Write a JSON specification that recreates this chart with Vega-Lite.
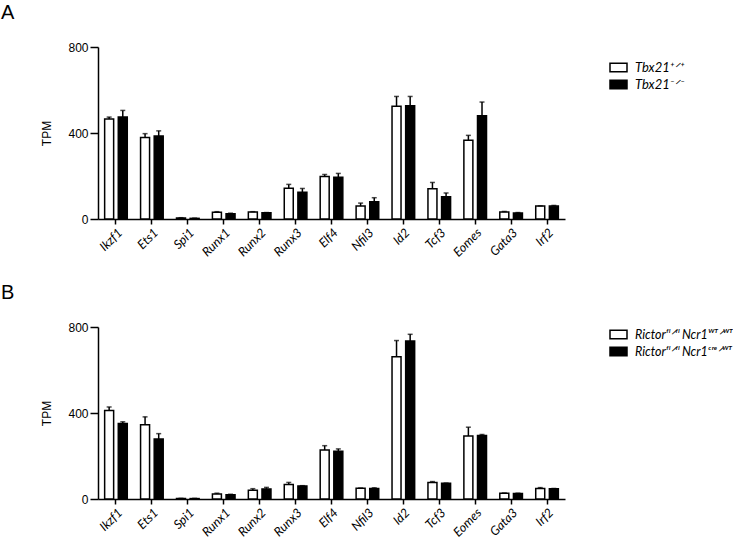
{
  "$schema": "https://vega.github.io/schema/vega-lite/v6.json",
  "padding": {"left": 1, "top": 3, "right": 0, "bottom": 5},
  "background": "white",
  "config": {
    "view": {"stroke": null},
    "font": "Liberation Sans",
    "axis": {"grid": false, "domainColor": "black", "tickColor": "black", "domainWidth": 1.5, "tickWidth": 1.5, "labelColor": "black", "titleColor": "black"}
  },
  "datasets": {
    "a": [
      {"gene": "Ikzf1", "genotype": "Tbx21+/+", "tpm": 465, "upper": 474},
      {"gene": "Ikzf1", "genotype": "Tbx21-/-", "tpm": 474, "upper": 505},
      {"gene": "Ets1", "genotype": "Tbx21+/+", "tpm": 379, "upper": 397},
      {"gene": "Ets1", "genotype": "Tbx21-/-", "tpm": 386, "upper": 410},
      {"gene": "Spi1", "genotype": "Tbx21+/+", "tpm": 5, "upper": 6},
      {"gene": "Spi1", "genotype": "Tbx21-/-", "tpm": 3, "upper": 4},
      {"gene": "Runx1", "genotype": "Tbx21+/+", "tpm": 31, "upper": 34},
      {"gene": "Runx1", "genotype": "Tbx21-/-", "tpm": 25, "upper": 27},
      {"gene": "Runx2", "genotype": "Tbx21+/+", "tpm": 33, "upper": 34},
      {"gene": "Runx2", "genotype": "Tbx21-/-", "tpm": 29, "upper": 30},
      {"gene": "Runx3", "genotype": "Tbx21+/+", "tpm": 143, "upper": 161},
      {"gene": "Runx3", "genotype": "Tbx21-/-", "tpm": 124, "upper": 142},
      {"gene": "Elf4", "genotype": "Tbx21+/+", "tpm": 198, "upper": 207},
      {"gene": "Elf4", "genotype": "Tbx21-/-", "tpm": 194, "upper": 212},
      {"gene": "Nfil3", "genotype": "Tbx21+/+", "tpm": 60, "upper": 74},
      {"gene": "Nfil3", "genotype": "Tbx21-/-", "tpm": 80, "upper": 99},
      {"gene": "Id2", "genotype": "Tbx21+/+", "tpm": 525, "upper": 570},
      {"gene": "Id2", "genotype": "Tbx21-/-", "tpm": 527, "upper": 570},
      {"gene": "Tcf3", "genotype": "Tbx21+/+", "tpm": 141, "upper": 170},
      {"gene": "Tcf3", "genotype": "Tbx21-/-", "tpm": 104, "upper": 121},
      {"gene": "Eomes", "genotype": "Tbx21+/+", "tpm": 366, "upper": 389},
      {"gene": "Eomes", "genotype": "Tbx21-/-", "tpm": 480, "upper": 544},
      {"gene": "Gata3", "genotype": "Tbx21+/+", "tpm": 33, "upper": 35},
      {"gene": "Gata3", "genotype": "Tbx21-/-", "tpm": 28, "upper": 30},
      {"gene": "Irf2", "genotype": "Tbx21+/+", "tpm": 60, "upper": 61},
      {"gene": "Irf2", "genotype": "Tbx21-/-", "tpm": 60, "upper": 63}
    ],
    "b": [
      {"gene": "Ikzf1", "genotype": "Rictor fl/fl Ncr1 WT/WT", "tpm": 412, "upper": 428},
      {"gene": "Ikzf1", "genotype": "Rictor fl/fl Ncr1 Cre/WT", "tpm": 351, "upper": 359},
      {"gene": "Ets1", "genotype": "Rictor fl/fl Ncr1 WT/WT", "tpm": 345, "upper": 382},
      {"gene": "Ets1", "genotype": "Rictor fl/fl Ncr1 Cre/WT", "tpm": 279, "upper": 304},
      {"gene": "Spi1", "genotype": "Rictor fl/fl Ncr1 WT/WT", "tpm": 2, "upper": 3},
      {"gene": "Spi1", "genotype": "Rictor fl/fl Ncr1 Cre/WT", "tpm": 2, "upper": 3},
      {"gene": "Runx1", "genotype": "Rictor fl/fl Ncr1 WT/WT", "tpm": 23, "upper": 27},
      {"gene": "Runx1", "genotype": "Rictor fl/fl Ncr1 Cre/WT", "tpm": 20, "upper": 22},
      {"gene": "Runx2", "genotype": "Rictor fl/fl Ncr1 WT/WT", "tpm": 41, "upper": 48},
      {"gene": "Runx2", "genotype": "Rictor fl/fl Ncr1 Cre/WT", "tpm": 47, "upper": 54},
      {"gene": "Runx3", "genotype": "Rictor fl/fl Ncr1 WT/WT", "tpm": 67, "upper": 77},
      {"gene": "Runx3", "genotype": "Rictor fl/fl Ncr1 Cre/WT", "tpm": 61, "upper": 62},
      {"gene": "Elf4", "genotype": "Rictor fl/fl Ncr1 WT/WT", "tpm": 228, "upper": 248},
      {"gene": "Elf4", "genotype": "Rictor fl/fl Ncr1 Cre/WT", "tpm": 222, "upper": 233},
      {"gene": "Nfil3", "genotype": "Rictor fl/fl Ncr1 WT/WT", "tpm": 50, "upper": 51},
      {"gene": "Nfil3", "genotype": "Rictor fl/fl Ncr1 Cre/WT", "tpm": 49, "upper": 52},
      {"gene": "Id2", "genotype": "Rictor fl/fl Ncr1 WT/WT", "tpm": 662, "upper": 737},
      {"gene": "Id2", "genotype": "Rictor fl/fl Ncr1 Cre/WT", "tpm": 735, "upper": 766},
      {"gene": "Tcf3", "genotype": "Rictor fl/fl Ncr1 WT/WT", "tpm": 77, "upper": 81},
      {"gene": "Tcf3", "genotype": "Rictor fl/fl Ncr1 Cre/WT", "tpm": 73, "upper": 74},
      {"gene": "Eomes", "genotype": "Rictor fl/fl Ncr1 WT/WT", "tpm": 293, "upper": 334},
      {"gene": "Eomes", "genotype": "Rictor fl/fl Ncr1 Cre/WT", "tpm": 295, "upper": 300},
      {"gene": "Gata3", "genotype": "Rictor fl/fl Ncr1 WT/WT", "tpm": 27, "upper": 28},
      {"gene": "Gata3", "genotype": "Rictor fl/fl Ncr1 Cre/WT", "tpm": 26, "upper": 27},
      {"gene": "Irf2", "genotype": "Rictor fl/fl Ncr1 WT/WT", "tpm": 49, "upper": 53},
      {"gene": "Irf2", "genotype": "Rictor fl/fl Ncr1 Cre/WT", "tpm": 48, "upper": 49}
    ]
  },
  "vconcat": [
    {
      "title": {"text": "A", "anchor": "start", "frame": "group", "dx": -97, "fontSize": 20, "fontWeight": "normal", "font": "Liberation Sans", "offset": 18, "color": "black"},
      "width": 467,
      "height": 172,
      "data": {"name": "a"},
      "encoding": {
        "x": {"field": "gene", "type": "nominal", "sort": ["Ikzf1", "Ets1", "Spi1", "Runx1", "Runx2", "Runx3", "Elf4", "Nfil3", "Id2", "Tcf3", "Eomes", "Gata3", "Irf2"], "scale": {"paddingInner": 0.37, "paddingOuter": 0.185},
          "axis": {"title": null, "labelAngle": -45, "labelFont": "Lato", "labelFontStyle": "italic", "labelFontSize": 12.5, "tickSize": 5, "labelPadding": 2}},
        "xOffset": {"field": "genotype", "type": "nominal", "sort": ["Tbx21+/+", "Tbx21-/-"], "scale": {"paddingInner": 0.34, "paddingOuter": 0}}
      },
      "layer": [
        {
          "mark": {"type": "bar", "stroke": "black", "strokeWidth": 1.5},
          "encoding": {
            "y": {"field": "tpm", "type": "quantitative", "scale": {"domain": [0, 800]},
              "axis": {"values": [0, 400, 800], "title": "TPM", "titleFontWeight": "normal", "titleFontSize": 12, "titlePadding": 14, "labelFontSize": 12, "tickSize": 8, "labelPadding": 2}},
            "fill": {"field": "genotype", "type": "nominal", "sort": ["Tbx21+/+", "Tbx21-/-"], "scale": {"range": ["white", "black"]},
              "legend": {"title": null, "orient": "none", "legendX": 511, "legendY": 11, "symbolType": "M-1,-0.5H1V0.5H-1Z", "symbolSize": 289, "symbolStrokeColor": "black", "symbolStrokeWidth": 1.5, "labelFont": "Lato", "labelFontStyle": "italic", "labelFontSize": 13, "labelColor": "black", "rowPadding": 0, "labelOffset": 7,
                "labelExpr": "datum.label == 'Tbx21+/+' ? 'Tbx21⁺ᐟ⁺' : 'Tbx21⁻ᐟ⁻'"}}
          }
        },
        {
          "mark": {"type": "rule", "strokeWidth": 1.5, "color": "black"},
          "encoding": {"y": {"field": "tpm", "type": "quantitative"}, "y2": {"field": "upper"}}
        },
        {
          "mark": {"type": "tick", "thickness": 1.5, "size": 5, "color": "black"},
          "encoding": {"y": {"field": "upper", "type": "quantitative"}}
        }
      ]
    },
    {
      "title": {"text": "B", "anchor": "start", "frame": "group", "dx": -97, "fontSize": 20, "fontWeight": "normal", "font": "Liberation Sans", "offset": 18, "color": "black"},
      "width": 467,
      "height": 172,
      "data": {"name": "b"},
      "encoding": {
        "x": {"field": "gene", "type": "nominal", "sort": ["Ikzf1", "Ets1", "Spi1", "Runx1", "Runx2", "Runx3", "Elf4", "Nfil3", "Id2", "Tcf3", "Eomes", "Gata3", "Irf2"], "scale": {"paddingInner": 0.37, "paddingOuter": 0.185},
          "axis": {"title": null, "labelAngle": -45, "labelFont": "Lato", "labelFontStyle": "italic", "labelFontSize": 12.5, "tickSize": 5, "labelPadding": 2}},
        "xOffset": {"field": "genotype", "type": "nominal", "sort": ["Rictor fl/fl Ncr1 WT/WT", "Rictor fl/fl Ncr1 Cre/WT"], "scale": {"paddingInner": 0.34, "paddingOuter": 0}}
      },
      "layer": [
        {
          "mark": {"type": "bar", "stroke": "black", "strokeWidth": 1.5},
          "encoding": {
            "y": {"field": "tpm", "type": "quantitative", "scale": {"domain": [0, 800]},
              "axis": {"values": [0, 400, 800], "title": "TPM", "titleFontWeight": "normal", "titleFontSize": 12, "titlePadding": 14, "labelFontSize": 12, "tickSize": 8, "labelPadding": 2}},
            "fill": {"field": "genotype", "type": "nominal", "sort": ["Rictor fl/fl Ncr1 WT/WT", "Rictor fl/fl Ncr1 Cre/WT"], "scale": {"range": ["white", "black"]},
              "legend": {"title": null, "orient": "none", "legendX": 511, "legendY": -2, "symbolType": "M-1,-0.5H1V0.5H-1Z", "symbolSize": 289, "symbolStrokeColor": "black", "symbolStrokeWidth": 1.5, "labelFont": "Lato", "labelFontStyle": "italic", "labelFontSize": 12.5, "labelColor": "black", "rowPadding": 0, "labelOffset": 7, "labelLimit": 300,
                "labelExpr": "datum.label == 'Rictor fl/fl Ncr1 WT/WT' ? 'Rictorᶠˡᐟᶠˡ Ncr1ᵂᵀᐟᵂᵀ' : 'Rictorᶠˡᐟᶠˡ Ncr1ᶜʳᵉᐟᵂᵀ'"}}
          }
        },
        {
          "mark": {"type": "rule", "strokeWidth": 1.5, "color": "black"},
          "encoding": {"y": {"field": "tpm", "type": "quantitative"}, "y2": {"field": "upper"}}
        },
        {
          "mark": {"type": "tick", "thickness": 1.5, "size": 5, "color": "black"},
          "encoding": {"y": {"field": "upper", "type": "quantitative"}}
        }
      ]
    }
  ],
  "spacing": 24,
  "resolve": {"scale": {"x": "independent", "y": "independent", "xOffset": "independent", "fill": "independent"}, "legend": {"fill": "independent"}}
}
